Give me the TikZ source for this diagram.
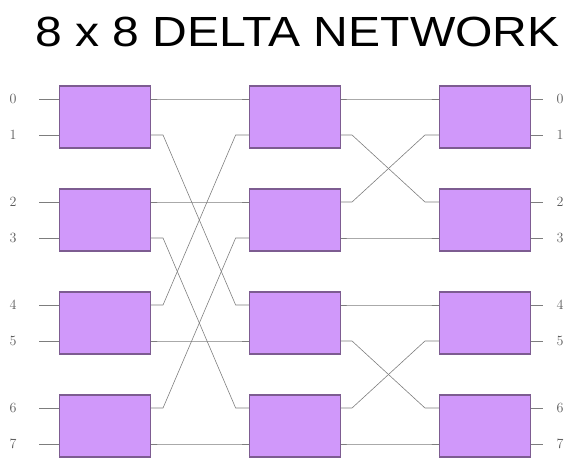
\documentclass[tikz,border=0pt]{standalone}
\usepackage{fontspec}
\newfontfamily\titlefont{Liberation Sans}
\definecolor{boxfill}{RGB}{208,152,250}
\definecolor{boxline}{RGB}{125,92,145}
\definecolor{wiregray}{RGB}{125,125,125}
\tikzset{
  switchbox/.style={draw=boxline, fill=boxfill, line width=0.9pt, minimum width=2.73cm, minimum height=1.86cm, inner sep=0pt},
  wire/.style={draw=wiregray, line width=0.5pt},
  portlabel/.style={font=\fontsize{12}{12}\selectfont, text=black!65, inner sep=0pt}
}
\begin{document}
\begin{tikzpicture}[x=0.03cm,y=-0.03cm]
	\useasboundingbox (0,0) rectangle (566,461);
	\node[anchor=west, inner sep=0pt, xscale=1.14, font=\titlefont\fontsize{36}{36}\selectfont] (title) at (35,31.5) {8 x 8 DELTA NETWORK};
	% switches and their ports
	\foreach \c/\x in {a/105,b/295,c/485}
		\foreach \i/\y in {0/117,1/220,2/323,3/426} {
			\node[switchbox] (\c\i) at (\x,\y) {};
			\pgfmathtruncatemacro\p{2*\i}
			\pgfmathtruncatemacro\q{2*\i+1}
			\coordinate (\c-in\p) at ([yshift=0.54cm]\c\i.west);
			\coordinate (\c-in\q) at ([yshift=-0.54cm]\c\i.west);
			\coordinate (\c-out\p) at ([yshift=0.54cm]\c\i.east);
			\coordinate (\c-out\q) at ([yshift=-0.54cm]\c\i.east);
		}
	% inputs and outputs
	\foreach \p in {0,...,7} {
		\node[portlabel] (inlab\p) at ([xshift=-1.38cm]a-in\p) {\p};
		\node[portlabel] (outlab\p) at ([xshift=0.87cm]c-out\p) {\p};
		\draw[wire] (a-in\p) -- ++(-0.6cm,0);
		\draw[wire] (c-out\p) -- ++(0.36cm,0);
	}
	% stage 1 to stage 2
	\foreach \s/\t in {0/0,1/4,2/2,3/6,4/1,5/5,6/3,7/7}
		\draw[wire] (a-out\s) -- ++(0.36cm,0) -- ([xshift=-0.4cm]b-in\t) -- (b-in\t);
	% stage 2 to stage 3
	\foreach \s/\t in {0/0,1/2,2/1,3/3,4/4,5/6,6/5,7/7}
		\draw[wire] (b-out\s) -- ++(0.33cm,0) -- ([xshift=-0.42cm]c-in\t) -- (c-in\t);
\end{tikzpicture}
\end{document}
